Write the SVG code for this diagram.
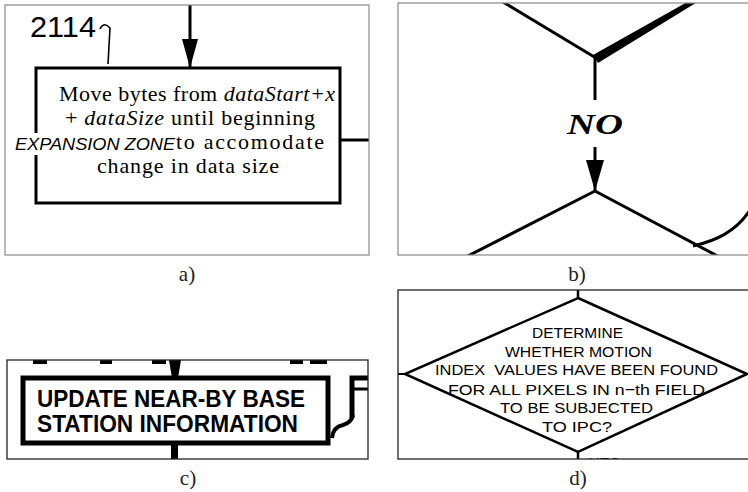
<svg xmlns="http://www.w3.org/2000/svg" width="748" height="492" viewBox="0 0 748 492">
  <style>
    .frame { fill: none; stroke: #8a8a8a; stroke-width: 1.2; }
    .frame-dark { fill: none; stroke: #222; stroke-width: 1.3; }
    .ink { fill: none; stroke: #000; stroke-linecap: butt; stroke-linejoin: miter; }
    .caption { font-family: "Liberation Serif", "DejaVu Serif", serif; font-size: 21px; fill: #222; text-anchor: middle; }
    .body { font-family: "Liberation Serif", "DejaVu Serif", serif; font-size: 22px; fill: #000; }
    .hand { font-family: "Liberation Sans", "DejaVu Sans", sans-serif; fill: #000; }
    .stencil { font-family: "Liberation Sans", "DejaVu Sans", sans-serif; font-weight: bold; font-size: 24px; fill: #000; }
    .plain { font-family: "Liberation Sans", "DejaVu Sans", sans-serif; font-size: 15.5px; fill: #000; text-anchor: start; }
  </style>
  <defs>
    <marker id="head-a" markerUnits="userSpaceOnUse" markerWidth="30" markerHeight="16" refX="29" refY="8" orient="auto">
      <path d="M0,0 L29,8 L0,16 z" fill="#000"/>
    </marker>
    <marker id="head-b" markerUnits="userSpaceOnUse" markerWidth="32" markerHeight="18" refX="31" refY="9" orient="auto">
      <path d="M0,0 L31,9 L0,18 z" fill="#000"/>
    </marker>
    <clipPath id="clip-a"><rect x="5" y="5" width="364" height="250"/></clipPath>
    <clipPath id="clip-b"><rect x="398" y="3" width="350" height="252"/></clipPath>
    <clipPath id="clip-c"><rect x="7" y="360" width="361" height="99"/></clipPath>
    <clipPath id="clip-d"><rect x="398" y="290" width="350" height="169"/></clipPath>
  </defs>

  <rect width="748" height="492" fill="#fff"/>

  <!-- a) process box with handwritten annotations -->
  <g id="panel-a" clip-path="url(#clip-a)">
    <g id="node-move-bytes">
      <path class="ink" stroke-width="3" d="M36,133 V68 H340 V203 H36 V155"/>
      <text class="body" x="59" y="101" textLength="276">Move bytes from <tspan font-style="italic">dataStart+x</tspan></text>
      <text class="body" x="65" y="125" textLength="250">+ <tspan font-style="italic">dataSize</tspan> until beginning</text>
      <text class="body" x="176" y="149" textLength="148">to accomodate</text>
      <text class="body" x="97" y="173" textLength="182">change in data size</text>
      <text class="hand" x="15" y="150" font-size="16" font-style="italic" textLength="160" lengthAdjust="spacingAndGlyphs">EXPANSION ZONE</text>
    </g>
    <g id="ref-2114">
      <text class="hand" x="30" y="37" font-size="29" textLength="66" lengthAdjust="spacingAndGlyphs">2114</text>
      <path class="ink" stroke-width="1.6" d="M100,29 Q104,21 110,28 Q109,45 108,64"/>
    </g>
    <g id="connectors-a">
      <line class="ink" stroke-width="3" x1="190" y1="5" x2="190" y2="68" marker-end="url(#head-a)"/>
      <line class="ink" stroke-width="3" x1="340" y1="140" x2="370" y2="140"/>
    </g>
  </g>
  <rect class="frame" x="5" y="5" width="364" height="250"/>
  <text class="caption" x="187" y="281">a)</text>

  <!-- b) decision-to-decision link labelled NO -->
  <g id="panel-b" clip-path="url(#clip-b)">
    <g id="node-upper-decision">
      <line class="ink" stroke-width="3" x1="503" y1="2" x2="596" y2="58"/>
      <path d="M593,55 L689,1 L699,1 L598,63 z" fill="#000"/>
    </g>
    <g id="node-lower-decision">
      <line class="ink" stroke-width="3" x1="595" y1="191" x2="460" y2="260"/>
      <line class="ink" stroke-width="3" x1="595" y1="191" x2="725" y2="260"/>
    </g>
    <g id="connectors-b">
      <line class="ink" stroke-width="3" x1="595" y1="57" x2="595" y2="100"/>
      <line class="ink" stroke-width="3" x1="595" y1="147" x2="595" y2="191" marker-end="url(#head-b)"/>
      <path class="ink" stroke-width="3" d="M693,246 C715,241 736,232 750,210"/>
    </g>
    <text x="567" y="134" font-family="Liberation Serif, DejaVu Serif, serif" font-size="30" font-weight="bold" font-style="italic" textLength="56" lengthAdjust="spacingAndGlyphs">NO</text>
  </g>
  <rect class="frame" x="398" y="3" width="352" height="252"/>
  <text class="caption" x="577" y="281">b)</text>

  <!-- c) stencil-lettered process box -->
  <g id="panel-c" clip-path="url(#clip-c)">
    <g id="node-update-base-station">
      <rect class="ink" stroke-width="5" x="23" y="378" width="305" height="65"/>
      <text class="stencil" x="37" y="407" textLength="268" lengthAdjust="spacingAndGlyphs">UPDATE NEAR-BY BASE</text>
      <text class="stencil" x="37" y="432" textLength="261" lengthAdjust="spacingAndGlyphs">STATION INFORMATION</text>
    </g>
    <g id="node-neighbour">
      <path class="ink" stroke-width="5" d="M370,378 H352 V418"/>
      <line class="ink" stroke-width="3" x1="354" y1="389" x2="370" y2="389"/>
    </g>
    <g id="connectors-c">
      <path d="M169,360 L181,360 L178,378 L172,378 z" fill="#000"/>
      <rect x="171" y="443" width="7" height="17" fill="#000"/>
      <path class="ink" stroke-width="4" d="M353,415 Q351,423 343,425 Q333,427 332,438"/>
      <g stroke="#000" stroke-width="4">
        <line x1="33" y1="362" x2="47" y2="362"/>
        <line x1="100" y1="362" x2="112" y2="362"/>
        <line x1="152" y1="362" x2="166" y2="362"/>
        <line x1="290" y1="362" x2="303" y2="362"/>
        <line x1="310" y1="362" x2="327" y2="362"/>
      </g>
    </g>
  </g>
  <rect class="frame-dark" x="7" y="360" width="361" height="99"/>
  <text class="caption" x="188" y="485">c)</text>

  <!-- d) decision diamond -->
  <g id="panel-d" clip-path="url(#clip-d)">
    <g id="node-motion-index-check">
      <polygon class="ink" stroke-width="2.5" points="578,298 747,374 578,452 405,374"/>
      <text class="plain" x="532" y="338" textLength="91" lengthAdjust="spacingAndGlyphs">DETERMINE</text>
      <text class="plain" x="505" y="357" textLength="147" lengthAdjust="spacingAndGlyphs">WHETHER MOTION</text>
      <text class="plain" x="435" y="375" textLength="283" lengthAdjust="spacingAndGlyphs" xml:space="preserve">INDEX  VALUES HAVE BEEN FOUND</text>
      <text class="plain" x="448" y="395" textLength="257" lengthAdjust="spacingAndGlyphs">FOR ALL PIXELS IN n−th FIELD</text>
      <text class="plain" x="500" y="413" textLength="153" lengthAdjust="spacingAndGlyphs">TO BE SUBJECTED</text>
      <text class="plain" x="542" y="432" textLength="70" lengthAdjust="spacingAndGlyphs">TO IPC?</text>
    </g>
    <g id="connectors-d">
      <line class="ink" stroke-width="2.5" x1="578" y1="289" x2="578" y2="299"/>
      <line class="ink" stroke-width="2.5" x1="578" y1="451" x2="578" y2="460"/>
      <line class="ink" stroke-width="2" x1="397" y1="374" x2="406" y2="374"/>
      <text class="plain" x="589" y="468" font-size="15" textLength="31" lengthAdjust="spacingAndGlyphs">YES</text>
    </g>
  </g>
  <rect class="frame-dark" x="398" y="290" width="352" height="169"/>
  <text class="caption" x="578" y="485">d)</text>
</svg>
